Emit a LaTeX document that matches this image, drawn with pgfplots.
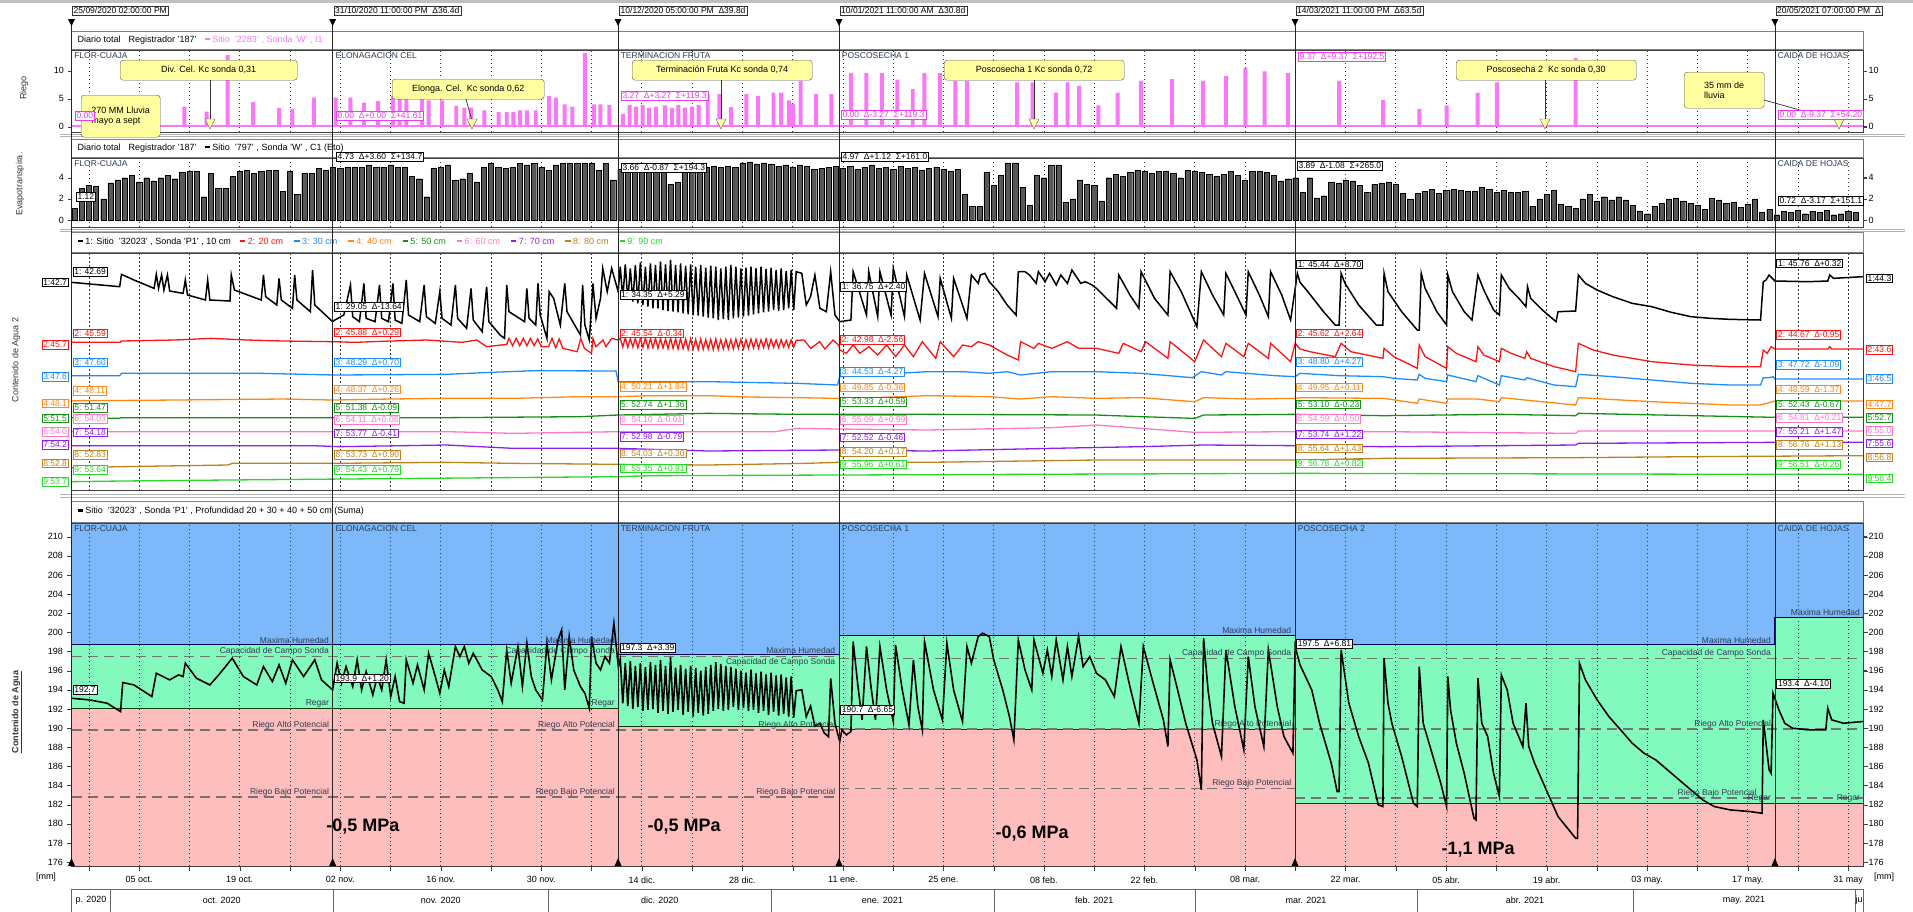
\documentclass[border=0pt]{standalone}
\usepackage{fontspec}
\setmainfont{Liberation Sans}
\usepackage{pgfplots}
\pgfplotsset{compat=1.18}

\definecolor{riego}{RGB}{248,120,248}
\definecolor{riegotxt}{RGB}{235,60,235}
\definecolor{etbar}{RGB}{88,88,88}
\definecolor{cA}{RGB}{0,0,0}
\definecolor{cB}{RGB}{250,20,20}
\definecolor{cC}{RGB}{30,140,250}
\definecolor{cD}{RGB}{255,135,20}
\definecolor{cE}{RGB}{20,145,20}
\definecolor{cF}{RGB}{255,120,200}
\definecolor{cG}{RGB}{140,30,240}
\definecolor{cH}{RGB}{190,130,30}
\definecolor{cI}{RGB}{40,215,40}
\definecolor{fBlue}{RGB}{125,185,250}
\definecolor{fGreen}{RGB}{130,250,190}
\definecolor{fPink}{RGB}{255,190,190}
\definecolor{note}{RGB}{255,255,160}
\definecolor{thr}{RGB}{45,60,80}

\newcommand\lab{\fontsize{9}{10}\selectfont}
\newcommand\labs{\fontsize{8.5}{9.5}\selectfont}
\newcommand\lrule{\rule[0.25em]{0.6em}{0.25em}}

\pgfplotsset{
 panel/.style={scale only axis, width=1791.5pt, xmin=0.58, xmax=250.06, anchor=south west,
   xtick={3,10,...,248}, xticklabels={}, xtick style={draw=none},
   xmajorgrids, major grid style={black!80, dash pattern=on 1.5pt off 2.5pt, line width=0.7pt},
   axis line style={black!75, line width=0.7pt},
   tick align=outside, major tick length=4pt, ytick style={black!75},
   ticklabel style={font=\lab},
   /pgf/number format/assume math mode=true,
   clip mode=individual},
}
\tikzset{
 vb/.style={draw=#1, text=#1, fill=white, font=\labs, inner sep=1.3pt, line width=0.6pt, anchor=west},
 callout/.style={draw=black!65, fill=note, rounded corners=3pt, font=\lab, inner sep=2pt, anchor=north west, align=center},
 hb/.style={draw=black!80, fill=white, font=\labs, inner sep=1.5pt, anchor=north west},
 ph/.style={font=\labs, text=thr, inner sep=1pt, anchor=north west},
}
\newcommand\vbx[4]{\node[vb=#1] at (axis cs:#2,#3) {#4};}
\newcommand\thl[3]{\node[anchor=south east, font=\labs, text=thr, inner sep=1pt] at (axis cs:#1,#2) {#3};}

\begin{document}
\begin{tikzpicture}
\path[use as bounding box] (0pt,0pt) rectangle (1913pt,-911pt);
\fill[black!25] (0pt,0pt) rectangle (1913pt,-3pt);
\foreach \yy in {134,136,229,231,494,497} {\draw[black!30, line width=0.8pt] (60pt,-\yy pt) -- (1905pt,-\yy pt);}

% ---------------- Panel 1: Riego ----------------
\begin{axis}[panel, at={(71.5pt,-132pt)}, height=82pt, ymin=-0.95, ymax=13.7, ytick={0,5,10}]
\addplot[riego, line width=1.6pt] coordinates {(0.58,0.15)(250.06,0.15)};
\addplot[ybar, bar width=0.55, fill=riego, draw=none] coordinates {
(16.30,3.6)(19.41,2.7)(22.33,12.8)(25.87,4.4)(29.48,3.3)(31.34,3.2)(34.33,5.2)(37.37,5.2)(39.42,5.2)(41.29,4.3)(43.28,4.6)(45.34,5.5)(46.27,6.0)(47.20,6.0)(49.38,5.0)(50.31,4.7)(52.18,4.7)(54.16,3.7)(55.28,3.4)(56.21,3.4)(58.08,2.9)(60.07,2.6)(61.19,2.6)(62.12,2.6)(63.05,2.9)(63.98,2.9)(65.23,2.9)(67.09,5.5)(68.02,5.2)(69.26,4.0)(70.32,3.6)(72.06,13.2)(73.31,4.0)(74.24,4.0)(75.49,3.9)(77.35,2.3)(78.3,3.9)(79.2,3.6)(80.1,3.9)(81.0,3.3)(82.0,3.6)(83.2,3.8)(84.2,3.3)(85.1,3.9)(86.0,3.4)(87.0,3.6)(87.9,3.9)(89.18,5.8)(90.79,5.8)(92.41,3.5)(94.56,5.8)(96.18,5.5)(98.34,6.1)(99.41,6.1)(100.49,4.7)(101.03,4.1)(102.11,8.2)(104.26,5.8)(106.41,5.8)(109.10,9.6)(111.26,9.6)(113.42,9.6)(115.58,8.4)(117.73,6.7)(119.34,9.6)(121.50,9.6)(123.66,8.2)(125.27,8.2)(132.27,7.9)(134.42,7.9)(137.65,6.1)(139.28,7.9)(140.89,7.3)(143.58,3.8)(146.27,6.1)(149.50,8.2)(153.82,8.5)(158.12,8.2)(161.35,9.1)(164.05,10.5)(166.74,9.9)(169.97,9.6)(177.09,8.2)(183.23,4.8)(188.29,3.2)(192.06,3.8)(196.38,6.1)(199.07,7.9)(210.05,12.3)};
\pgfplotsinvokeforeach{0,5,10}{\draw[black!75] (axis cs:250.06,#1) -- ++(4pt,0pt) node[right,font=\lab,inner sep=1.5pt,text=black]{#1};}
\node[ph] at (axis cs:0.8,13.5) {FLOR-CUAJA};
\node[ph] at (axis cs:37.2,13.5) {ELONAGACION CEL};
\node[ph] at (axis cs:76.9,13.5) {TERMINACION FRUTA};
\node[ph] at (axis cs:107.7,13.5) {POSCOSECHA 1};
\node[ph] at (axis cs:238.0,13.5) {CAIDA DE HOJAS};
\end{axis}

% ---------------- Panel 2: ET ----------------
\begin{axis}[panel, at={(71.5pt,-227pt)}, height=69pt, ymin=-0.66, ymax=5.86, ytick={0,2,4}]
\addplot[ybar, bar width=0.72, fill=etbar, draw=black, line width=0.3pt] table[row sep=\\] {
x y \\ 1 1.1 \\ 2 3.0 \\ 3 3.3 \\ 4 3.2 \\ 5 2.0 \\ 6 3.5 \\ 7 3.8 \\ 8 4.0 \\ 9 4.2 \\ 10 3.6 \\
11 4.0 \\ 12 3.7 \\ 13 4.0 \\ 14 4.2 \\ 15 3.9 \\ 16 4.5 \\ 17 4.6 \\ 18 4.6 \\ 19 2.2 \\ 20 4.4 \\
21 3.0 \\ 22 3.0 \\ 23 4.1 \\ 24 4.6 \\ 25 4.7 \\ 26 4.4 \\ 27 4.6 \\ 28 4.7 \\ 29 4.7 \\ 30 2.7 \\
31 4.6 \\ 32 2.4 \\ 33 4.4 \\ 34 4.4 \\ 35 4.9 \\ 36 4.7 \\ 37 5.0 \\ 38 4.9 \\ 39 5.0 \\ 40 5.0 \\
41 5.0 \\ 42 5.2 \\ 43 5.0 \\ 44 5.0 \\ 45 5.2 \\ 46 5.0 \\ 47 5.0 \\ 48 4.1 \\ 49 3.9 \\ 50 2.2 \\
51 4.9 \\ 52 5.0 \\ 53 5.2 \\ 54 3.8 \\ 55 3.9 \\ 56 4.4 \\ 57 3.6 \\ 58 5.0 \\ 59 5.35 \\ 60 5.0 \\
61 4.9 \\ 62 5.0 \\ 63 5.35 \\ 64 5.2 \\ 65 5.35 \\ 66 5.0 \\ 67 4.7 \\ 68 5.2 \\ 69 5.35 \\ 70 5.35 \\
71 5.35 \\ 72 5.4 \\ 73 5.35 \\ 74 4.7 \\ 75 5.35 \\ 76 3.8 \\ 77 4.8 \\ 78 4.9 \\ 79 4.9 \\ 80 4.8 \\
81 4.9 \\ 82 4.8 \\ 83 4.7 \\ 84 3.4 \\ 85 3.6 \\ 86 4.7 \\ 87 4.8 \\ 88 5.0 \\ 89 5.0 \\ 90 5.1 \\
91 5.0 \\ 92 5.1 \\ 93 5.0 \\ 94 5.4 \\ 95 5.5 \\ 96 5.3 \\ 97 5.4 \\ 98 5.3 \\ 99 5.1 \\ 100 5.2 \\
101 5.0 \\ 102 5.2 \\ 103 5.1 \\ 104 4.8 \\ 105 4.9 \\ 106 5.0 \\ 107 5.1 \\ 108 4.9 \\ 109 5.1 \\ 110 4.8 \\
111 5.0 \\ 112 5.2 \\ 113 4.9 \\ 114 5.0 \\ 115 4.8 \\ 116 5.1 \\ 117 4.9 \\ 118 5.0 \\ 119 4.7 \\ 120 4.9 \\
121 5.0 \\ 122 4.8 \\ 123 4.6 \\ 124 4.8 \\ 125 2.4 \\ 126 1.3 \\ 127 1.3 \\ 128 4.5 \\ 129 3.3 \\ 130 4.2 \\
131 5.4 \\ 132 5.4 \\ 133 3.1 \\ 134 1.4 \\ 135 4.2 \\ 136 4.0 \\ 137 5.2 \\ 138 5.2 \\ 139 1.7 \\ 140 2.0 \\
141 3.8 \\ 142 3.4 \\ 143 3.3 \\ 144 1.8 \\ 145 4.0 \\ 146 4.3 \\ 147 4.1 \\ 148 4.5 \\ 149 4.7 \\ 150 4.6 \\
151 4.4 \\ 152 4.6 \\ 153 4.6 \\ 154 4.4 \\ 155 4.0 \\ 156 4.7 \\ 157 4.6 \\ 158 4.5 \\ 159 4.3 \\ 160 4.1 \\
161 4.3 \\ 162 4.6 \\ 163 4.2 \\ 164 3.8 \\ 165 4.6 \\ 166 4.6 \\ 167 4.5 \\ 168 4.2 \\ 169 3.7 \\ 170 3.9 \\
171 4.0 \\ 172 2.6 \\ 173 4.0 \\ 174 2.1 \\ 175 2.3 \\ 176 3.6 \\ 177 3.5 \\ 178 3.8 \\ 179 3.7 \\ 180 3.3 \\
181 2.6 \\ 182 3.4 \\ 183 3.5 \\ 184 3.6 \\ 185 3.4 \\ 186 2.5 \\ 187 2.0 \\ 188 2.5 \\ 189 2.7 \\ 190 2.9 \\
191 2.5 \\ 192 2.8 \\ 193 2.9 \\ 194 2.8 \\ 195 2.7 \\ 196 2.7 \\ 197 3.1 \\ 198 2.9 \\ 199 2.6 \\ 200 2.8 \\
201 2.6 \\ 202 2.6 \\ 203 2.7 \\ 204 1.3 \\ 205 2.0 \\ 206 2.4 \\ 207 2.8 \\ 208 1.5 \\ 209 1.3 \\ 210 1.1 \\
211 2.0 \\ 212 2.4 \\ 213 1.8 \\ 214 2.2 \\ 215 1.9 \\ 216 2.2 \\ 217 1.9 \\ 218 1.4 \\ 219 0.8 \\ 220 0.6 \\
221 1.3 \\ 222 1.6 \\ 223 2.0 \\ 224 2.1 \\ 225 1.8 \\ 226 1.6 \\ 227 1.4 \\ 228 1.0 \\ 229 2.1 \\ 230 1.9 \\
231 1.6 \\ 232 1.7 \\ 233 1.2 \\ 234 1.5 \\ 235 2.0 \\ 236 0.7 \\ 237 1.0 \\ 238 0.5 \\ 239 0.8 \\ 240 0.7 \\
241 0.9 \\ 242 0.6 \\ 243 0.8 \\ 244 0.7 \\ 245 0.9 \\ 246 0.5 \\ 247 0.6 \\ 248 0.8 \\ 249 0.7 \\
};
\pgfplotsinvokeforeach{0,2,4}{\draw[black!75] (axis cs:250.06,#1) -- ++(4pt,0pt) node[right,font=\lab,inner sep=1.5pt,text=black]{#1};}
\node[ph] at (axis cs:0.8,5.7) {FLOR-CUAJA};
\node[ph] at (axis cs:238.0,5.7) {CAIDA DE HOJAS};
\end{axis}

% ---------------- Panel 3: sensors ----------------
\begin{axis}[panel, at={(71.5pt,-490pt)}, height=237pt, ymin=84, ymax=795, y dir=reverse, ytick=\empty]
\addplot[cI, line width=1.3pt] coordinates {(0.58,770)(7.54,768)(22.33,765)(76.71,755)(81.14,752)(107.25,750)(170.98,745)(236.98,748)(250.05,748)};
\addplot[cH, line width=1.3pt] coordinates {(0.58,728)(7.54,725)(22.33,720)(23.0,715)(36.94,715)(52.8,712)(62.12,715)(76.71,718)(89.22,720)(102.9,715)(107.25,712)(119.69,712)(143.31,705)(170.98,705)(183.36,700)(210.04,698)(226.1,695)(250.05,692)};
\addplot[cG, line width=1.3pt] coordinates {(0.58,662)(34.15,662)(37.88,665)(52.8,660)(62.12,670)(76.71,670)(89.22,678)(107.25,675)(119.69,678)(137.09,670)(149.53,665)(158.23,660)(170.98,662)(183.36,665)(210.04,660)(210.42,655)(237.80,652)(250.05,652)};
\addplot[cF, line width=1.3pt] coordinates {(0.58,620)(52.8,620)(62.12,625)(76.71,620)(89.22,620)(98.55,620)(101.66,610)(107.25,612)(119.69,615)(137.09,608)(143.31,600)(149.53,610)(156.99,622)(170.98,620)(183.36,620)(210.04,625)(210.42,618)(250.05,618)};
\addplot[cE, line width=1.3pt] coordinates {(0.58,578)(7.29,580)(7.54,578)(36.94,578)(52.8,578)(71.45,575)(76.71,570)(89.22,565)(101.66,568)(107.25,568)(119.69,568)(143.31,570)(149.53,575)(156.99,580)(158.23,570)(170.98,568)(183.36,572)(199.69,568)(210.04,572)(210.42,565)(237.80,577)(250.05,577)};
\addplot[cD, line width=1.3pt] coordinates {(0.58,527)(10,526)(20,524)(30,522)(36.94,525)(45,522)(52.8,520)(62.12,520)(71.45,515)(76.71,515)(81.14,512)(89.22,512)(95,516)(101.66,518)(107.25,520)(107.56,522)(119.69,512)(128.39,515)(132.74,522)(137.09,515)(143.31,520)(149.53,518)(156.99,530)(158.23,518)(164.45,522)(170.98,520)(171.66,518)(183.36,520)(187.99,535)(188.26,522)(192.07,535)(192.24,522)(196.43,522)(199.42,530)(199.69,518)(210.04,540)(210.42,518)(220.65,530)(231.54,540)(235.79,540)(237.80,528)(250.05,528)};
\addplot[cC, line width=1.3pt] coordinates {(0.58,452)(7.29,452)(7.54,445)(27.0,445)(37.26,450)(52.8,448)(59.0,442)(65.2,437)(76.4,438)(76.71,470)(89.22,470)(101.66,475)(107.25,480)(107.56,455)(119.69,440)(124.66,440)(128.39,445)(130.88,440)(132.74,450)(137.09,440)(143.31,440)(149.53,445)(156.68,458)(157.92,440)(160.72,450)(161.34,440)(168.18,452)(170.98,455)(171.66,445)(177.10,452)(183.20,455)(184.73,460)(187.99,465)(188.26,448)(189.08,460)(192.07,470)(192.24,450)(196.16,470)(196.43,452)(199.42,480)(199.69,452)(202.96,465)(203.23,458)(207.04,480)(210.04,485)(210.42,448)(215.21,455)(220.65,465)(226.10,475)(231.54,480)(235.79,480)(236.17,458)(236.98,458)(237.53,455)(237.80,462)(250.05,462)};
\addplot[cB, line width=1.3pt] coordinates {(0.58,352)(7.4,352)(7.5,348)(15,345)(20,340)(25,345)(30,348)(36.94,350)(40,352)(45,348)(50,345)(55,352)(57,345)(58.39,365)(61.19,358)(61.5,340)(62.0,362)(62.5,340)(63.0,362)(63.5,340)(64,362)(64.5,340)(65,362)(65.5,342)(66,365)(67,365)(67.5,340)(68,368)(68.5,342)(69,370)(70,375)(71,380)(71.5,340)(72,370)(73,385)(73.2,340)(73.6,365)(74.6,345)(75.0,365)(75.8,340)(76.7,345)
(77.0,340)(77.35,366)(77.7,338)(78.05,367)(78.4,341)(78.75,366)(79.1,339)(79.45,368)(79.8,340)(80.15,367)(80.5,338)(80.85,369)(81.2,341)(81.55,368)(81.9,339)(82.25,370)(82.6,340)(82.95,369)(83.3,342)(83.65,371)(84.0,339)(84.35,370)(84.7,341)(85.05,372)(85.4,340)(85.75,371)(86.1,342)(86.45,373)(86.8,341)(87.15,372)(87.5,343)(87.85,374)(88.2,342)(88.55,373)(88.9,344)(89.25,372)(89.6,343)(89.95,374)(90.3,342)(90.65,373)(91.0,344)(91.35,372)(91.7,343)(92.05,371)(92.4,344)(92.75,372)(93.1,342)(93.45,370)(93.8,343)(94.15,371)(94.5,344)(94.85,370)(95.2,342)(95.55,369)(95.9,343)(96.25,370)(96.6,344)(96.95,368)(97.3,342)(97.65,369)(98.0,343)(98.35,367)(98.7,345)(99.05,368)(99.4,344)(99.75,366)(100.1,346)(100.45,367)(100.8,345)(101.15,366)(101.5,346)
(102.59,345)(103.52,370)(104.76,350)(105.5,372)(106.63,345)(107.46,362)(107.56,375)(108.49,385)(109.43,360)(110.36,385)(111.60,365)(112.85,390)(114.09,360)(115.33,395)(116.58,360)(117.82,395)(119.06,350)(120.93,400)(121.55,350)(123.42,395)(124.66,360)(125.90,365)(126.84,350)(128.39,360)(129.63,375)(130.88,390)(132.43,405)(132.74,350)(134.61,370)(135.23,355)(137.09,370)(139.27,350)(140.82,370)(143.31,370)(146.42,385)(147.04,355)(149.53,380)(150.15,350)(153.26,400)(153.57,350)(156.99,410)(158.23,345)(160.72,395)(161.34,355)(163.83,395)(164.45,355)(167.25,400)(167.56,355)(170.35,410)(170.98,355)
(171.66,372)(173.02,380)(176.56,395)(177.38,355)(178.74,380)(183.20,400)(183.36,370)(184.73,395)(187.99,430)(188.26,360)(189.08,395)(192.07,430)(192.24,365)(193.43,385)(196.16,410)(196.43,365)(197.25,390)(199.42,410)(199.69,370)(201.06,385)(202.96,400)(203.23,380)(203.78,400)(207.04,425)(210.04,440)(210.42,355)(212.49,375)(215.21,390)(217.93,400)(220.65,410)(223.37,415)(226.10,420)(231.54,425)(235.79,425)(236.17,375)(236.71,385)(237.26,365)(237.80,372)(245.15,372)(245.43,365)(245.70,372)(250.05,372)};
\addplot[cA, line width=1.5pt] coordinates {(0.58,172)(7.29,185)(7.54,148)(9.28,165)(12.08,190)(12.39,148)(12.70,190)(13.13,150)(13.45,195)(13.94,150)(14.25,198)(16.12,205)(16.43,165)(16.74,210)(19.23,225)(19.54,165)(19.85,225)(22.65,228)(22.83,150)(23.27,195)(27.00,225)(27.31,150)(27.62,215)(29.17,240)(29.48,160)(29.80,225)(31.35,250)(31.66,150)(31.97,225)(33.84,260)(34.15,135)(34.46,240)(36.94,290)
(37.26,285)(38.50,270)(39.43,180)(39.74,275)(40.68,290)(41.30,175)(41.61,280)(42.85,290)(43.47,180)(43.78,280)(44.72,290)(45.34,175)(45.65,285)(46.58,295)(47.20,165)(47.51,270)(49.07,290)(49.69,180)(50.00,275)(51.24,295)(51.87,200)(52.18,280)(53.42,300)(54.04,180)(54.35,280)(55.60,310)(56.22,190)(56.53,285)(57.77,320)(58.39,185)(58.70,290)(60.26,330)(60.88,340)(61.19,180)(61.50,260)(63.68,290)(63.99,190)(64.30,280)(65.23,300)(65.54,175)(65.85,270)(66.79,340)(67.10,200)(67.72,220)(68.65,300)(69.27,175)(69.58,260)(71.45,330)(71.76,180)(72.07,300)(72.69,345)(73.19,175)(73.63,280)(74.25,220)(74.56,130)(75.18,200)(75.80,130)(76.71,200)
(77.0,125)(77.35,220)(77.7,118)(78.05,225)(78.4,130)(78.75,230)(79.1,120)(79.45,235)(79.8,112)(80.15,240)(80.5,125)(80.85,245)(81.2,115)(81.55,250)(81.9,120)(82.25,250)(82.6,110)(82.95,255)(83.3,118)(83.65,258)(84.0,105)(84.35,260)(84.7,120)(85.05,262)(85.4,115)(85.75,265)(86.1,122)(86.45,268)(86.8,118)(87.15,270)(87.5,125)(87.85,272)(88.2,120)(88.55,275)(88.9,128)(89.25,278)(89.6,122)(89.95,280)(90.3,125)(90.65,285)(91.0,130)(91.35,282)(91.7,125)(92.05,285)(92.4,120)(92.75,280)(93.1,125)(93.45,278)(93.8,130)(94.15,275)(94.5,128)(94.85,272)(95.2,125)(95.55,268)(95.9,130)(96.25,265)(96.6,125)(96.95,262)(97.3,132)(97.65,260)(98.0,128)(98.35,255)(98.7,135)(99.05,258)(99.4,130)(99.75,255)(100.1,138)(100.45,250)(100.8,135)(101.15,255)(101.5,140)
(102.28,145)(102.9,240)(103.5,215)(104.1,150)(104.8,250)(105.7,260)(106.3,140)(106.9,270)(107.56,290)
(109.12,285)(109.43,140)(111.29,270)(111.60,140)(112.85,275)(113.16,140)(114.71,270)(115.02,130)(116.58,275)(116.89,150)(118.75,285)(119.37,145)(121.24,275)(121.55,160)(123.11,280)(123.42,160)(125.28,280)(125.90,150)(126.84,175)(127.15,150)(127.77,145)(128.39,170)(129.63,200)(130.88,240)(132.12,270)(132.43,140)(133.36,140)(133.99,150)(134.92,175)(135.23,140)(136.16,170)(136.78,145)(137.71,180)(138.34,150)(139.27,175)(139.89,135)(141.13,175)(141.76,170)(142.69,180)(143.31,190)(145.18,230)(146.11,250)(146.42,150)(147.97,210)(149.22,250)(149.53,140)(151.39,220)(153.26,270)(153.57,140)(155.12,200)(157.30,305)(157.92,140)(159.47,210)(161.03,270)(161.34,145)(162.58,200)(164.14,270)(164.45,140)(166.00,210)(167.25,275)(167.56,140)(169.11,210)(170.35,285)(171.29,145)
(171.66,172)(172.75,200)(174.93,260)(176.56,300)(177.10,300)(177.38,145)(177.92,175)(179.83,240)(182.28,300)(183.20,300)(183.36,145)(183.91,200)(185.81,260)(187.99,315)(188.26,315)(188.54,145)(189.08,190)(190.71,260)(192.07,300)(192.24,150)(192.89,200)(194.52,260)(195.61,285)(196.43,150)(197.25,195)(198.61,255)(199.42,270)(199.69,150)(200.78,190)(202.14,220)(203.12,245)(203.34,185)(203.78,220)(205.41,255)(207.31,290)(207.59,260)(210.04,258)(210.42,150)(211.40,175)(213.03,195)(215.21,215)(217.93,235)(220.65,245)(223.37,262)(226.10,275)(228.82,280)(231.54,283)(235.79,285)(236.17,170)(236.55,165)(236.98,150)(237.80,168)(242.43,170)(245.15,168)(245.43,150)(245.97,160)(250.05,155)};
% value boxes
\vbx{cA}{0.75}{140}{1: 42.69}
\vbx{cB}{0.75}{325}{2: 45.59}
\vbx{cC}{0.75}{412}{3: 47.60}
\vbx{cD}{0.75}{497}{4: 48.11}
\vbx{cE}{0.75}{548}{5: 51.47}
\vbx{cF}{0.75}{582}{6: 54.03}
\vbx{cG}{0.75}{622}{7: 54.18}
\vbx{cH}{0.75}{690}{8: 52.83}
\vbx{cI}{0.75}{735}{9: 53.64}
\vbx{cA}{37.15}{245}{1: 29.05 ~Δ-13.64}
\vbx{cB}{37.15}{322}{2: 45.88 ~Δ+0.29}
\vbx{cC}{37.15}{412}{3: 48.29 ~Δ+0.70}
\vbx{cD}{37.15}{493}{4: 48.37 ~Δ+0.26}
\vbx{cE}{37.15}{548}{5: 51.38 ~Δ-0.09}
\vbx{cF}{37.15}{585}{6: 54.11 ~Δ+0.08}
\vbx{cG}{37.15}{625}{7: 53.77 ~Δ-0.41}
\vbx{cH}{37.15}{690}{8: 53.73 ~Δ+0.90}
\vbx{cI}{37.15}{735}{9: 54.43 ~Δ+0.79}
\vbx{cA}{76.9}{210}{1: 34.35 ~Δ+5.29}
\vbx{cB}{76.9}{325}{2: 45.54 ~Δ-0.34}
\vbx{cD}{76.9}{485}{4: 50.21 ~Δ+1.84}
\vbx{cE}{76.9}{540}{5: 52.74 ~Δ+1.36}
\vbx{cF}{76.9}{585}{6: 54.10 ~Δ-0.01}
\vbx{cG}{76.9}{635}{7: 52.98 ~Δ-0.79}
\vbx{cH}{76.9}{685}{8: 54.03 ~Δ+0.30}
\vbx{cI}{76.9}{730}{9: 55.35 ~Δ+0.91}
\vbx{cA}{107.65}{185}{1: 36.75 ~Δ+2.40}
\vbx{cB}{107.65}{345}{2: 42.98 ~Δ-2.56}
\vbx{cC}{107.65}{440}{3: 44.53 ~Δ-4.27}
\vbx{cD}{107.65}{487}{4: 49.85 ~Δ-0.36}
\vbx{cE}{107.65}{530}{5: 53.33 ~Δ+0.59}
\vbx{cF}{107.65}{585}{6: 55.09 ~Δ+0.99}
\vbx{cG}{107.65}{637}{7: 52.52 ~Δ-0.46}
\vbx{cH}{107.65}{680}{8: 54.20 ~Δ+0.17}
\vbx{cI}{107.65}{718}{9: 55.96 ~Δ+0.61}
\vbx{cA}{171.15}{118}{1: 45.44 ~Δ+8.70}
\vbx{cB}{171.15}{325}{2: 45.62 ~Δ+2.64}
\vbx{cC}{171.15}{410}{3: 48.80 ~Δ+4.27}
\vbx{cD}{171.15}{487}{4: 49.95 ~Δ+0.11}
\vbx{cE}{171.15}{538}{5: 53.10 ~Δ-0.23}
\vbx{cF}{171.15}{582}{6: 54.59 ~Δ-0.50}
\vbx{cG}{171.15}{628}{7: 53.74 ~Δ+1.22}
\vbx{cH}{171.15}{670}{8: 55.64 ~Δ+1.43}
\vbx{cI}{171.15}{715}{9: 56.78 ~Δ+0.82}
\vbx{cA}{238.0}{115}{1: 45.76 ~Δ+0.32}
\vbx{cB}{238.0}{330}{2: 44.67 ~Δ-0.95}
\vbx{cC}{238.0}{420}{3: 47.72 ~Δ-1.09}
\vbx{cD}{238.0}{493}{4: 48.59 ~Δ-1.37}
\vbx{cE}{238.0}{540}{5: 52.43 ~Δ-0.67}
\vbx{cF}{238.0}{578}{6: 54.81 ~Δ+0.21}
\vbx{cG}{238.0}{620}{7: 55.21 ~Δ+1.47}
\vbx{cH}{238.0}{660}{8: 56.76 ~Δ+1.13}
\vbx{cI}{238.0}{718}{9: 56.51 ~Δ-0.26}
% left and right boxes
\node[vb=cA, anchor=east, xshift=-3pt] at (axis cs:0.58,172) {1:42.7};
\node[vb=cB, anchor=east, xshift=-3pt] at (axis cs:0.58,360) {2:45.7};
\node[vb=cC, anchor=east, xshift=-3pt] at (axis cs:0.58,455) {3:47.6};
\node[vb=cD, anchor=east, xshift=-3pt] at (axis cs:0.58,535) {4:48.1};
\node[vb=cE, anchor=east, xshift=-3pt] at (axis cs:0.58,580) {5:51.5};
\node[vb=cF, anchor=east, xshift=-3pt] at (axis cs:0.58,620) {6:54.0};
\node[vb=cG, anchor=east, xshift=-3pt] at (axis cs:0.58,660) {7:54.2};
\node[vb=cH, anchor=east, xshift=-3pt] at (axis cs:0.58,715) {8:52.8};
\node[vb=cI, anchor=east, xshift=-3pt] at (axis cs:0.58,770) {9:53.7};
\node[vb=cA, xshift=3pt] at (axis cs:250.06,160) {1:44.3};
\node[vb=cB, xshift=3pt] at (axis cs:250.06,375) {2:43.6};
\node[vb=cC, xshift=3pt] at (axis cs:250.06,462) {3:46.5};
\node[vb=cD, xshift=3pt] at (axis cs:250.06,538) {4:47.7};
\node[vb=cE, xshift=3pt] at (axis cs:250.06,578) {5:52.7};
\node[vb=cF, xshift=3pt] at (axis cs:250.06,618) {6:55.0};
\node[vb=cG, xshift=3pt] at (axis cs:250.06,655) {7:55.6};
\node[vb=cH, xshift=3pt] at (axis cs:250.06,697) {8:56.8};
\node[vb=cI, xshift=3pt] at (axis cs:250.06,760) {9:56.4};
\end{axis}

% ---------------- Panel 4: sum ----------------
\begin{axis}[panel, at={(71.5pt,-866pt)}, height=343.1pt, ymin=175.6, ymax=211.43,
  ytick={176,178,...,210}, xtick style={draw=black!75}, major tick length=5pt, axis on top,
  xticklabels={,05 oct.,,19 oct.,,02 nov.,,16 nov.,,30 nov.,,14 dic.,,28 dic.,,11 ene.,,25 ene.,,08 feb.,,22 feb.,,08 mar.,,22 mar.,,05 abr.,,19 abr.,,03 may.,,17 may.,,31 may},
  xticklabel style={font=\lab, yshift=-2pt}]
\addplot[fill=fBlue, draw=none] coordinates {(0.58,211.43)(250.06,211.43)(250.06,201.6)(237.79,201.6)(237.79,198.7)(170.96,198.7)(170.96,199.7)(107.46,199.7)(107.46,197.7)(76.71,197.7)(76.71,198.7)(0.58,198.7)(0.58,211.43)};
\addplot[fill=fGreen, draw=none] coordinates {(0.58,198.7)(76.71,198.7)(76.71,197.7)(107.46,197.7)(107.46,199.7)(170.96,199.7)(170.96,198.7)(237.79,198.7)(237.79,201.6)(250.06,201.6)(250.06,182.1)(170.96,182.1)(170.96,189.9)(107.46,189.9)(107.46,190.2)(76.71,190.2)(76.71,192.1)(0.58,192.1)(0.58,198.7)};
\addplot[fill=fPink, draw=none] coordinates {(0.58,192.1)(76.71,192.1)(76.71,190.2)(107.46,190.2)(107.46,189.9)(170.96,189.9)(170.96,182.1)(250.06,182.1)(250.06,175.6)(0.58,175.6)(0.58,192.1)};
\addplot[draw=blue!35!black, line width=0.9pt] coordinates {(0.58,198.7)(76.71,198.7)(76.71,197.7)(107.46,197.7)(107.46,199.7)(170.96,199.7)(170.96,198.7)(237.79,198.7)(237.79,201.6)(250.06,201.6)};
\addplot[draw=green!25!black, line width=0.9pt] coordinates {(0.58,192.1)(76.71,192.1)(76.71,190.2)(107.46,190.2)(107.46,189.9)(170.96,189.9)(170.96,182.1)(250.06,182.1)};
\addplot[draw=black!55, line width=1.2pt, dash pattern=on 10pt off 6pt] coordinates {(0.58,197.5)(107.46,197.5)};
\addplot[draw=black!55, line width=1.2pt, dash pattern=on 10pt off 6pt] coordinates {(107.46,197.3)(250.06,197.3)};
\addplot[draw=black!55, line width=1.2pt, dash pattern=on 10pt off 6pt] coordinates {(0.58,189.8)(107.46,189.8)};
\addplot[draw=black!55, line width=1.2pt, dash pattern=on 10pt off 6pt] coordinates {(107.46,189.9)(250.06,189.9)};
\addplot[draw=black!55, line width=1.2pt, dash pattern=on 10pt off 6pt] coordinates {(0.58,182.8)(107.46,182.8)};
\addplot[draw=black!55, line width=1.2pt, dash pattern=on 10pt off 6pt] coordinates {(107.46,183.7)(170.96,183.7)};
\addplot[draw=black!55, line width=1.2pt, dash pattern=on 10pt off 6pt] coordinates {(170.96,182.7)(250.06,182.7)};
\addplot[black, line width=1.6pt] coordinates {(0.58,193.12)(3.06,192.95)(5.55,192.60)(7.41,191.73)(7.72,194.76)(9.28,194.51)(11.77,193.30)(12.39,195.73)(14.25,195.04)(15.5,195.56)(16.12,195.39)(16.43,196.78)(17.98,195.21)(19.85,194.51)(21.09,195.56)(22.96,197.30)(24.51,195.39)(26.38,194.51)(27.31,196.43)(28.55,194.86)(29.48,196.60)(30.42,194.69)(31.35,197.13)(32.90,195.39)(34.46,197.13)(35.39,195.04)(36.94,193.99)
(37.57,196.78)(38.19,194.69)(38.81,196.43)(39.74,194.34)(40.36,197.13)(40.98,193.99)(41.61,195.91)(42.54,193.47)(43.16,195.39)(43.78,193.99)(44.40,197.13)(45.03,193.30)(45.65,195.39)(46.27,192.77)(46.89,192.60)(47.20,197.13)(48.14,194.69)(48.76,196.60)(49.69,193.99)(50.31,197.82)(51.24,195.39)(51.87,193.64)(52.49,196.08)(53.11,194.34)(54.04,198.52)(54.66,197.47)(55.28,198.52)(55.91,196.78)(56.53,197.82)(57.77,196.08)(59.02,195.39)(59.95,193.99)(60.57,192.77)(61.19,198.17)(61.81,194.69)(62.75,198.52)(63.37,194.34)(63.99,198.87)(64.61,195.39)(65.23,193.99)(66.16,192.95)(66.79,198.87)(67.41,195.04)(68.34,199.21)(68.84,200.26)(69.27,193.99)(69.89,199.56)(70.52,196.08)(71.45,194.34)(72.07,193.64)(72.69,192.08)(73.00,199.56)(73.63,196.78)(74.25,196.08)(74.87,197.47)(75.49,196.78)(76.11,200.95)(76.73,196.43)
(77.0,197.2)(77.35,192.6)(77.7,196.8)(78.05,192.3)(78.4,197.0)(78.75,192.0)(79.1,196.5)(79.45,192.2)(79.8,196.8)(80.15,191.8)(80.5,196.4)(80.85,191.9)(81.2,196.9)(81.55,192.0)(81.9,196.6)(82.25,191.6)(82.6,197.1)(82.95,191.8)(83.3,196.5)(83.65,191.5)(84.0,197.4)(84.35,191.7)(84.7,196.3)(85.05,191.9)(85.4,196.6)(85.75,191.4)(86.1,196.2)(86.45,191.7)(86.8,196.5)(87.15,191.2)(87.5,196.3)(87.85,191.6)(88.2,196.0)(88.55,191.3)(88.9,196.4)(89.25,191.5)(89.6,196.6)(89.95,191.8)(90.3,196.9)(90.65,192.0)(91.0,196.7)(91.35,191.8)(91.7,196.5)(92.05,191.9)(92.4,196.4)(92.75,192.2)(93.1,196.2)(93.45,191.9)(93.8,196.0)(94.15,192.1)(94.5,195.8)(94.85,191.8)(95.2,196.1)(95.55,191.9)(95.9,195.7)(96.25,191.6)(96.6,195.9)(96.95,191.8)(97.3,195.6)(97.65,191.4)(98.0,195.8)(98.35,191.7)(98.7,195.5)(99.05,191.3)(99.4,195.6)(99.75,191.5)(100.1,195.3)(100.45,191.2)(100.8,195.4)(101.15,191.1)(101.5,193.9)
(102.28,194.0)(102.9,191.2)(103.5,192.3)(104.1,190.2)(104.8,190.5)(105.4,189.5)(106.0,189.1)(106.3,195.2)(106.9,190.5)(107.56,188.6)
(107.87,189.82)(108.49,189.29)(109.12,189.64)(109.43,199.04)(110.05,194.69)(110.67,190.86)(111.29,198.52)(111.91,194.34)(112.54,190.86)(113.16,198.52)(114.09,193.99)(115.02,190.69)(115.33,198.69)(116.27,193.99)(117.20,190.34)(117.82,197.13)(118.44,192.25)(119.06,189.82)(119.37,199.04)(120.62,193.99)(121.86,190.86)(122.48,198.87)(123.42,193.99)(124.66,190.69)(125.28,198.52)(125.90,196.78)(126.84,199.56)(127.46,199.91)(128.39,199.56)(129.01,197.13)(130.26,193.99)(131.19,191.21)(131.81,188.77)(132.43,199.21)(133.36,196.08)(134.30,193.99)(134.61,199.21)(135.85,195.73)(136.47,198.17)(137.09,195.39)(137.71,199.21)(138.65,195.04)(139.27,198.52)(139.89,195.39)(140.82,199.56)(141.45,196.43)(142.38,197.47)(143.31,195.73)(144.55,195.04)(145.80,193.30)(146.73,198.52)(147.97,194.34)(149.22,190.51)(149.84,198.52)(151.08,195.04)(152.63,190.86)(153.26,188.08)(153.57,197.13)(154.50,194.34)(155.74,190.51)(157.30,186.68)(157.92,183.55)(158.23,199.39)(158.85,193.99)(159.47,190.51)(160.72,187.03)(161.34,198.17)(162.58,192.25)(163.83,187.73)(164.45,197.47)(165.38,192.25)(166.62,188.08)(167.25,198.17)(168.49,192.25)(169.42,189.12)(170.67,187.38)(170.98,198.52)
(171.66,196.60)(173.29,193.99)(174.38,190.51)(176.01,186.34)(176.83,183.38)(177.10,183.38)(177.38,198.17)(177.92,195.39)(178.46,192.60)(179.83,189.12)(181.19,186.34)(182.55,181.99)(183.20,181.81)(183.36,197.30)(183.91,192.60)(184.45,190.51)(185.81,187.03)(187.45,182.16)(187.99,181.81)(188.26,196.43)(188.81,190.51)(189.90,187.73)(191.26,184.25)(192.07,181.81)(192.24,195.39)(192.62,191.90)(193.43,188.42)(194.52,185.29)(195.88,180.59)(196.16,180.42)(196.43,195.21)(196.97,190.51)(197.79,189.12)(198.61,185.29)(199.42,182.85)(199.69,195.56)(200.51,193.99)(201.33,190.51)(202.69,188.08)(203.12,192.60)(203.51,188.08)(204.32,186.34)(205.95,183.55)(207.59,180.77)(210.04,178.50)(210.31,178.50)(210.58,196.78)(211.40,195.04)(213.03,192.95)(214.67,191.21)(216.30,189.82)(217.93,188.42)(219.56,187.38)(221.20,186.68)(222.83,185.64)(224.46,184.59)(226.10,183.55)(227.73,182.51)(229.36,181.81)(231.54,181.46)(234.26,181.29)(236.00,181.11)(236.17,190.86)(236.55,188.42)(236.98,185.64)(237.26,185.29)(237.53,193.64)(238.35,191.90)(239.16,190.51)(240.25,189.99)(242.43,189.82)(244.88,189.82)(245.15,192.08)(245.70,190.86)(247.33,190.51)(250.05,190.69)};
% threshold labels
\thl{36.6}{198.7}{Maxima Humedad}
\thl{36.6}{197.5}{Capacidad de Campo Sonda}
\thl{36.6}{192.1}{Regar}
\thl{36.6}{189.8}{Riego Alto Potencial}
\thl{36.6}{182.8}{Riego Bajo Potencial}
\thl{76.4}{198.7}{Maxima Humedad}
\thl{76.4}{197.5}{Capacidad de Campo Sonda}
\thl{76.4}{192.1}{Regar}
\thl{76.4}{189.8}{Riego Alto Potencial}
\thl{76.4}{182.8}{Riego Bajo Potencial}
\thl{107.1}{197.7}{Maxima Humedad}
\node[anchor=north east, font=\labs, text=thr, inner sep=1pt] at (axis cs:107.1,197.45) {Capacidad de Campo Sonda};
\thl{107.1}{189.8}{Riego Alto Potencial}
\thl{107.1}{182.8}{Riego Bajo Potencial}
\thl{170.6}{199.7}{Maxima Humedad}
\thl{170.6}{197.3}{Capacidad de Campo Sonda}
\thl{170.6}{189.9}{Riego Alto Potencial}
\thl{170.6}{183.7}{Riego Bajo Potencial}
\thl{237.4}{198.7}{Maxima Humedad}
\thl{237.4}{197.3}{Capacidad de Campo Sonda}
\thl{237.4}{189.9}{Riego Alto Potencial}
\thl{235.4}{182.7}{Riego Bajo Potencial}
\thl{237.4}{182.1}{Regar}
\thl{249.8}{201.6}{Maxima Humedad}
\thl{249.8}{182.1}{Regar}
% phase names
\node[ph] at (axis cs:0.8,211.3) {FLOR-CUAJA};
\node[ph] at (axis cs:37.2,211.3) {ELONAGACION CEL};
\node[ph] at (axis cs:76.9,211.3) {TERMINACION FRUTA};
\node[ph] at (axis cs:107.7,211.3) {POSCOSECHA 1};
\node[ph] at (axis cs:171.2,211.3) {POSCOSECHA 2};
\node[ph] at (axis cs:238.0,211.3) {CAIDA DE HOJAS};
% value boxes
\vbx{black}{0.75}{194.0}{192.7}
\vbx{black}{37.15}{195.2}{193.9 ~Δ+1.20}
\vbx{black}{76.9}{198.4}{197.3 ~Δ+3.39}
\vbx{black}{107.65}{191.9}{190.7 ~Δ-6.65}
\vbx{black}{171.15}{198.8}{197.5 ~Δ+6.81}
\vbx{black}{238.0}{194.6}{193.4 ~Δ-4.10}
% MPa
\node[font=\fontsize{18}{20}\selectfont\bfseries] at (axis cs:41.17,179.68) {-0,5 MPa};
\node[font=\fontsize{18}{20}\selectfont\bfseries] at (axis cs:85.88,179.68) {-0,5 MPa};
\node[font=\fontsize{18}{20}\selectfont\bfseries] at (axis cs:134.34,178.95) {-0,6 MPa};
\node[font=\fontsize{18}{20}\selectfont\bfseries] at (axis cs:196.45,177.28) {-1,1 MPa};
\pgfplotsinvokeforeach{176,178,...,210}{\draw[black!75] (axis cs:250.06,#1) -- ++(4pt,0pt) node[right,font=\lab,inner sep=1.5pt,text=black]{#1};}
\end{axis}

% ---------------- legend strips ----------------
\draw[black!50, fill=white] (71.5pt,-31pt) rectangle (1863pt,-49pt);
\node[anchor=west, font=\lab] at (74pt,-40pt) {Diario total\hspace{8pt}Registrador '187'\hspace{8pt}\textcolor{riego}{\lrule\ Sitio\ \ '2283' , Sonda 'W' , I1}};
\draw[black!50, fill=white] (71.5pt,-139pt) rectangle (1863pt,-157pt);
\node[anchor=west, font=\lab] at (74pt,-148pt) {Diario total\hspace{8pt}Registrador '187'\hspace{8pt}\lrule\ Sitio\ \ '797' , Sonda 'W' , C1 (Eto)};
\draw[black!50, fill=white] (71.5pt,-232pt) rectangle (1863pt,-252pt);
\node[anchor=west, font=\lab] at (74pt,-242pt) {\textcolor{cA}{\lrule\ 1: Sitio\ \ '32023' , Sonda 'P1' , 10 cm}\hspace{9pt}\textcolor{cB}{\lrule\ 2: 20 cm}\hspace{11pt}\textcolor{cC}{\lrule\ 3: 30 cm}\hspace{11pt}\textcolor{cD}{\lrule\ 4: 40 cm}\hspace{11pt}\textcolor{cE}{\lrule\ 5: 50 cm}\hspace{11pt}\textcolor{cF}{\lrule\ 6: 60 cm}\hspace{11pt}\textcolor{cG}{\lrule\ 7: 70 cm}\hspace{11pt}\textcolor{cH}{\lrule\ 8: 80 cm}\hspace{11pt}\textcolor{cI}{\lrule\ 9: 90 cm}};
\draw[black!50, fill=white] (71.5pt,-501pt) rectangle (1863pt,-522pt);
\node[anchor=west, font=\lab] at (74pt,-511.5pt) {\lrule\ Sitio\ \ '32023' , Sonda 'P1' , Profundidad 20 + 30 + 40 + 50 cm (Suma)};

% ---------------- callouts (panel 1) ----------------
\node[callout, minimum width=79pt, minimum height=42pt, align=left] at (81pt,-95pt) {270 MM Lluvia\\mayo a sept};
\node[callout, minimum width=177pt, minimum height=20pt] at (120pt,-60pt) {Div. Cel. Kc sonda 0,31};
\node[callout, minimum width=152pt, minimum height=20pt] at (392pt,-79pt) {Elonga. Cel.\ \ Kc sonda 0,62};
\node[callout, minimum width=180pt, minimum height=20pt] at (632pt,-60pt) {Terminación Fruta Kc sonda 0,74};
\node[callout, minimum width=180pt, minimum height=20pt] at (944pt,-60pt) {Poscosecha 1 Kc sonda 0,72};
\node[callout, minimum width=180pt, minimum height=20pt] at (1456pt,-60pt) {Poscosecha 2\ \ Kc sonda 0,30};
\node[callout, minimum width=80pt, minimum height=36pt, align=left] at (1684pt,-72pt) {35 mm de\\lluvia};
\foreach \xa/\xb/\ya in {210/210/80, 466/472/99, 721/721/80, 1034/1034/80, 1545/1545/80, 1764/1839/100} {
  \draw[black!80, line width=0.7pt] (\xa pt,-\ya pt) -- (\xb pt,-121pt);
  \filldraw[fill=note, draw=black!70] (\xb pt-5pt,-119pt) -- (\xb pt+5pt,-119pt) -- (\xb pt,-129pt) -- cycle;
}
% pink value boxes panel 1
\node[vb=riegotxt] at (75pt,-116pt) {0.00};
\node[vb=riegotxt] at (336pt,-116pt) {0.00 ~Δ+0.00 ~Σ+41.61};
\node[vb=riegotxt] at (621pt,-96pt) {3.27 ~Δ+3.27 ~Σ+119.3};
\node[vb=riegotxt] at (841pt,-115pt) {0.00 ~Δ-3.27 ~Σ+119.3};
\node[vb=riegotxt] at (1298pt,-57pt) {9.37 ~Δ+9.37 ~Σ+192.5};
\node[vb=riegotxt] at (1778pt,-115pt) {0.00 ~Δ-9.37 ~Σ+54.20};
% black value boxes panel 2
\node[vb=black] at (76pt,-197pt) {1.12};
\node[vb=black] at (336pt,-157pt) {4.73 ~Δ+3.60 ~Σ+134.7};
\node[vb=black] at (621pt,-168pt) {3.66 ~Δ-0.87 ~Σ+194.3};
\node[vb=black] at (841pt,-157pt) {4.97 ~Δ+1.12 ~Σ+161.0};
\node[vb=black] at (1297pt,-166pt) {3.89 ~Δ-1.08 ~Σ+265.0};
\node[vb=black] at (1778pt,-201pt) {0.72 ~Δ-3.17 ~Σ+151.1};

% ---------------- header ----------------
\node[hb] at (72pt,-6pt) {25/09/2020 02:00:00 PM};
\node[hb] at (333.5pt,-6pt) {31/10/2020 11:00:00 PM ~Δ36.4d};
\node[hb] at (619pt,-6pt) {10/12/2020 05:00:00 PM ~Δ39.8d};
\node[hb] at (839.5pt,-6pt) {10/01/2021 11:00:00 AM ~Δ30.8d};
\node[hb] at (1295.5pt,-6pt) {14/03/2021 11:00:00 PM ~Δ63.5d};
\node[hb] at (1775.5pt,-6pt) {20/05/2021 07:00:00 PM ~Δ};
\foreach \xx in {71.5,332.7,618.1,839.0,1295.0,1774.9} {
  \draw[black!85, line width=0.8pt] (\xx pt,-19pt) -- (\xx pt,-866pt);
  \fill[black] (\xx pt-3.5pt,-19pt) -- (\xx pt+3.5pt,-19pt) -- (\xx pt,-26pt) -- cycle;
  \fill[black] (\xx pt-3.5pt,-866pt) -- (\xx pt+3.5pt,-866pt) -- (\xx pt,-858pt) -- cycle;
}

% ---------------- month row ----------------
\draw[black!60] (71.5pt,-889pt) rectangle (1863pt,-913pt);
\foreach \xx in {110.4,333.0,548.5,771.1,993.7,1194.8,1417.4,1632.8,1855.4} {\draw[black!60] (\xx pt,-889pt) -- (\xx pt,-913pt);}
\foreach \xx/\tt in {91/p. 2020, 221.7/oct. 2020, 440.7/nov. 2020, 659.8/dic. 2020, 882.4/ene. 2021, 1094.2/feb. 2021, 1306/mar. 2021, 1525/abr. 2021, 1744/may. 2021, 1859/ju} {\node[font=\lab] at (\xx pt,-900pt) {\tt};}
\node[font=\lab] at (46pt,-877pt) {[mm]};
\node[font=\lab] at (1884pt,-877pt) {[mm]};

% ---------------- side titles ----------------
\node[rotate=90, font=\lab, text=black!80] at (24pt,-88pt) {Riego};
\node[rotate=90, font=\lab, text=black!80] at (20pt,-184pt) {Evapotranspira.};
\node[rotate=90, font=\lab, text=black!80] at (16pt,-360pt) {Contenido de Agua 2};
\node[rotate=90, font=\lab\bfseries, text=black!80] at (17pt,-712pt) {\underline{Contenido de Agua}};
\end{tikzpicture}
\end{document}
